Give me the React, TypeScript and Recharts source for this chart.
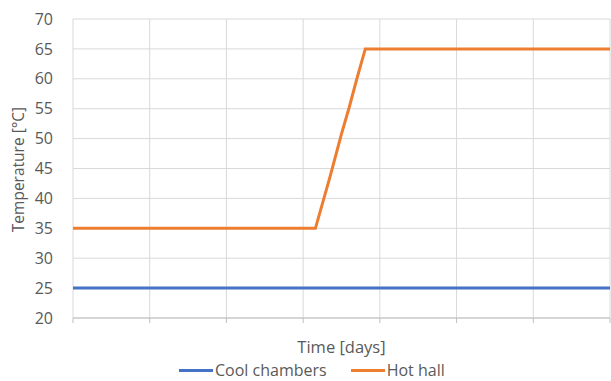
import { LineChart, Line, XAxis, YAxis, CartesianGrid, Legend } from 'recharts';

const times = [0, 3.16, 3.35, 3.5, 3.6, 3.7, 3.81, 7];
const coolChambers = [25, 25, 25, 25, 25, 25, 25, 25];
const hotHall = [35, 35, 43.6, 50.8, 55.2, 60, 65, 65];
const xTicks = [0, 1, 2, 3, 4, 5, 6, 7];
const yTicks = [20, 25, 30, 35, 40, 45, 50, 55, 60, 65, 70];

const data = times.map((t, i) => ({ t, cool: coolChambers[i], hot: hotHall[i] }));

const font = '"Open Sans", "Noto Sans", sans-serif';
const textColor = '#595959';

const series = [
  { key: 'cool', name: 'Cool chambers', color: '#4472C4' },
  { key: 'hot', name: 'Hot hall', color: '#ED7D31' },
];

const LegendContent = () => (
  <div style={{ display: 'flex', alignItems: 'center', boxSizing: 'border-box', height: 24, paddingTop: 2, paddingLeft: 179, fontFamily: font, fontSize: 16, lineHeight: '22px', color: textColor }}>
    {series.map((s, i) => (
      <div key={s.key} style={{ display: 'flex', alignItems: 'center', marginRight: i === 0 ? 24 : 0 }}>
        <span style={{ display: 'inline-block', width: 34, height: 3, background: s.color, marginRight: 2 }} />
        <span>{s.name}</span>
      </div>
    ))}
  </div>
);

const YLabel = ({ viewBox }: any) => {
  const x = viewBox.x + 18;
  const y = viewBox.y + viewBox.height / 2 + 1;
  return (
    <text x={x} y={y} transform={`rotate(-90, ${x}, ${y})`} textAnchor="middle" dominantBaseline="central" fill={textColor} fontSize={15.5} fontFamily={font}>
      Temperature [°C]
    </text>
  );
};

export default function App() {
  return (
    <div style={{ position: 'absolute', left: 0, top: 0, background: '#fff' }}>
      <LineChart width={611} height={381} data={data} margin={{ top: 19, right: 1, bottom: 0, left: 0 }}>
        <CartesianGrid stroke="#d9d9d9" strokeWidth={1} />
        <XAxis
          dataKey="t"
          type="number"
          domain={[0, 7]}
          ticks={xTicks}
          tickFormatter={() => ''}
          tickSize={5}
          stroke="#bfbfbf"
          height={39}
          label={{ value: 'Time [days]', position: 'insideBottom', offset: 4, fill: textColor, fontSize: 16.5, fontFamily: font }}
        />
        <YAxis
          type="number"
          domain={[20, 70]}
          ticks={yTicks}
          interval={0}
          axisLine={false}
          tickLine={false}
          width={73}
          tickMargin={14}
          tick={{ fill: textColor, fontSize: 16, fontFamily: font }}
          label={<YLabel />}
        />
        <Legend verticalAlign="bottom" height={24} content={<LegendContent />} />
        {series.map((s) => (
          <Line key={s.key} dataKey={s.key} name={s.name} stroke={s.color} strokeWidth={3} dot={false} isAnimationActive={false} />
        ))}
      </LineChart>
    </div>
  );
}
